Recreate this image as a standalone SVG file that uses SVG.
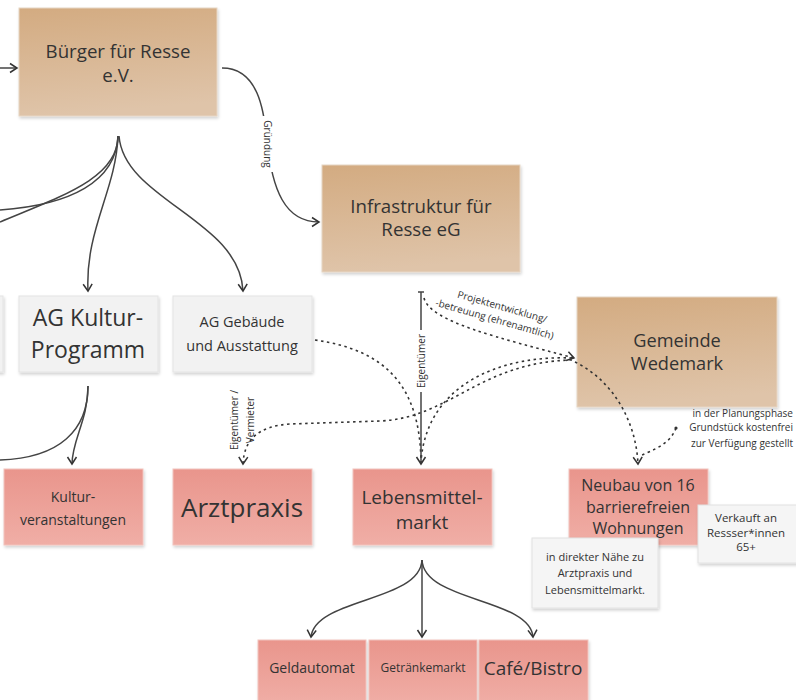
<svg xmlns="http://www.w3.org/2000/svg" width="796" height="700" viewBox="0 0 796 700">
<defs>
<linearGradient id="tan" x1="0" y1="0" x2="0.15" y2="1">
<stop offset="0" stop-color="#d3ab81"/>
<stop offset="1" stop-color="#dfc4a9"/>
</linearGradient>
<linearGradient id="pink" x1="0" y1="0" x2="0" y2="1">
<stop offset="0" stop-color="#e9958c"/>
<stop offset="1" stop-color="#f0aea6"/>
</linearGradient>
<filter id="sh" x="-10%" y="-10%" width="125%" height="130%">
<feDropShadow dx="1" dy="2" stdDeviation="1.5" flood-color="#000" flood-opacity="0.18"/>
</filter>
<marker id="arr" viewBox="0 0 12 12" refX="10" refY="6" markerWidth="12" markerHeight="12" markerUnits="userSpaceOnUse" orient="auto">
<path d="M3,1.5 L10,6 L3,10.5" fill="none" stroke="#333" stroke-width="1.5" stroke-dasharray="none"/>
</marker>
<style>
.t{font-family:"Open Sans","DejaVu Sans",sans-serif;fill:#333;text-anchor:middle}
.tan{fill:url(#tan);stroke:#e6d6c4;stroke-width:1;filter:url(#sh)}
.pink{fill:url(#pink);stroke:#f2c3bd;stroke-width:1;filter:url(#sh)}
.gray{fill:#f2f2f2;stroke:#e4e4e4;stroke-width:1;filter:url(#sh)}
.note{fill:#f5f5f5;stroke:#e2e2e2;stroke-width:1;filter:url(#sh)}
.c{fill:none;stroke:#444;stroke-width:1.5}
.d{fill:none;stroke:#333;stroke-width:1.6;stroke-dasharray:2.5 3.5}
.lbl{font-family:"Open Sans","DejaVu Sans",sans-serif;fill:#333;font-size:10px;text-anchor:middle}
</style>
</defs>
<rect width="796" height="700" fill="#fff"/>

<g id="buerger">
<rect class="tan" x="19" y="8" width="198" height="108"/>
<text class="t" x="118" y="58" font-size="18.7">Bürger für Resse</text>
<text class="t" x="118" y="82" font-size="18.7">e.V.</text>
</g>
<g id="infrastruktur">
<rect class="tan" x="322" y="165" width="198" height="107"/>
<text class="t" x="421" y="213" font-size="18.7">Infrastruktur für</text>
<text class="t" x="421" y="236" font-size="18.7">Resse eG</text>
</g>
<g id="gemeinde">
<rect class="tan" x="577" y="297" width="200" height="110"/>
<text class="t" x="677" y="347" font-size="18.2">Gemeinde</text>
<text class="t" x="677" y="370" font-size="18.2">Wedemark</text>
</g>
<g id="left-ag">
<rect class="gray" x="-20" y="296" width="23" height="76"/>
</g>
<g id="ag-kultur">
<rect class="gray" x="19" y="296" width="139" height="76"/>
<text class="t" x="88" y="326" font-size="23">AG Kultur-</text>
<text class="t" x="88" y="358" font-size="23">Programm</text>
</g>
<g id="ag-gebaeude">
<rect class="gray" x="173" y="296" width="139" height="76"/>
<text class="t" x="242" y="327" font-size="14.5">AG Gebäude</text>
<text class="t" x="242" y="351" font-size="14.5">und Ausstattung</text>
</g>
<g id="kultur">
<rect class="pink" x="4" y="469" width="139" height="76"/>
<text class="t" x="73" y="502" font-size="14">Kultur-</text>
<text class="t" x="73" y="525" font-size="14">veranstaltungen</text>
</g>
<g id="arztpraxis">
<rect class="pink" x="173" y="469" width="139" height="76"/>
<text class="t" x="242" y="517" font-size="26">Arztpraxis</text>
</g>
<g id="lebensmittel">
<rect class="pink" x="353" y="469" width="139" height="76"/>
<text class="t" x="422" y="504" font-size="19">Lebensmittel-</text>
<text class="t" x="422" y="529" font-size="19">markt</text>
</g>
<g id="neubau">
<rect class="pink" x="569" y="469" width="139" height="76"/>
<text class="t" x="638" y="491" font-size="16">Neubau von 16</text>
<text class="t" x="638" y="513" font-size="16">barrierefreien</text>
<text class="t" x="638" y="534" font-size="16">Wohnungen</text>
</g>
<g id="note-verkauft">
<rect class="note" x="698" y="505" width="110" height="58"/>
<text class="t" x="746" y="522" font-size="11.5">Verkauft an</text>
<text class="t" x="746" y="536.5" font-size="11.5">Ressser*innen</text>
<text class="t" x="746" y="551" font-size="11.5">65+</text>
</g>
<g id="note-naehe">
<rect class="note" x="532" y="538" width="126" height="70"/>
<text class="t" x="595" y="561" font-size="11">in direkter Nähe zu</text>
<text class="t" x="595" y="577" font-size="11">Arztpraxis und</text>
<text class="t" x="595" y="594" font-size="11">Lebensmittelmarkt.</text>
</g>
<g id="note-planung">
<text class="t" x="793" y="417" font-size="10" style="text-anchor:end">in der Planungsphase</text>
<text class="t" x="793" y="431" font-size="10" style="text-anchor:end">Grundstück kostenfrei</text>
<text class="t" x="793" y="447" font-size="10" style="text-anchor:end">zur Verfügung gestellt</text>
</g>
<g id="geldautomat">
<rect class="pink" x="258" y="640" width="108" height="64"/>
<text class="t" x="312" y="673" font-size="14">Geldautomat</text>
</g>
<g id="getraenkemarkt">
<rect class="pink" x="369" y="640" width="108" height="64"/>
<text class="t" x="423" y="672" font-size="12">Getränkemarkt</text>
</g>
<g id="cafe">
<rect class="pink" x="479" y="640" width="109" height="64"/>
<text class="t" x="533" y="675" font-size="19">Café/Bistro</text>
</g>

<g id="connectors">
<path class="c" d="M0,68 L17,68" marker-end="url(#arr)"/>
<path class="c" d="M222,68 C258,68 264,110 267,140 C272,190 285,222 319,222" marker-end="url(#arr)"/>
<rect x="262" y="116" width="12" height="56" fill="#fff"/>
<text class="lbl" transform="translate(264,144) rotate(90)">Gründung</text>
<path class="c" d="M118,136 C116,182 70,205 0,210"/>
<path class="c" d="M118,136 C118,178 62,196 0,222"/>
<path class="c" d="M118,136 C116,190 85,230 88,291" marker-end="url(#arr)"/>
<path class="c" d="M119,136 C124,200 240,220 243,291" marker-end="url(#arr)"/>
<path class="c" d="M88,386 C88,420 72,440 72,464" marker-end="url(#arr)"/>
<path class="c" d="M0,460 C60,458 88,430 88,386"/>
<path class="d" d="M315,340 C385,350 420,385 421,462"/>
<path class="d" d="M572,358 C500,355 426,385 421,462"/>
<path class="d" d="M572,360 C480,362 450,418 380,421 L290,424 C258,426 244,440 243,464" marker-end="url(#arr)"/>
<path class="d" d="M424,298 C430,322 500,338 574,358" marker-end="url(#arr)"/>
<path class="c" d="M421,292 L421,464" marker-end="url(#arr)"/>
<path class="c" d="M418,292 L424,292"/>
<rect x="414" y="330" width="14" height="62" fill="#fff"/>
<text class="lbl" transform="translate(425,361) rotate(-90)">Eigentümer</text>
<g transform="translate(500,315) rotate(16)">
<text class="lbl" x="0" y="-5">Projektentwicklung/</text>
<text class="lbl" x="-4" y="9">-betreuung (ehrenamtlich)</text>
</g>
<g transform="translate(243,420) rotate(-90)">
<text class="lbl" x="0" y="-5">Eigentümer /</text>
<text class="lbl" x="0" y="11">Vermieter</text>
</g>
<path class="d" d="M575,362 C612,380 636,420 638,464" marker-end="url(#arr)"/>
<path class="d" d="M676,428 C670,445 652,450 640,456"/>
<circle cx="676" cy="428" r="1.6" fill="#333"/>
<path class="c" d="M422,560 C420,602 315,598 311,637" marker-end="url(#arr)"/>
<path class="c" d="M422,560 L422,637" marker-end="url(#arr)"/>
<path class="c" d="M422,560 C424,602 530,598 533,637" marker-end="url(#arr)"/>
</g>
</svg>
